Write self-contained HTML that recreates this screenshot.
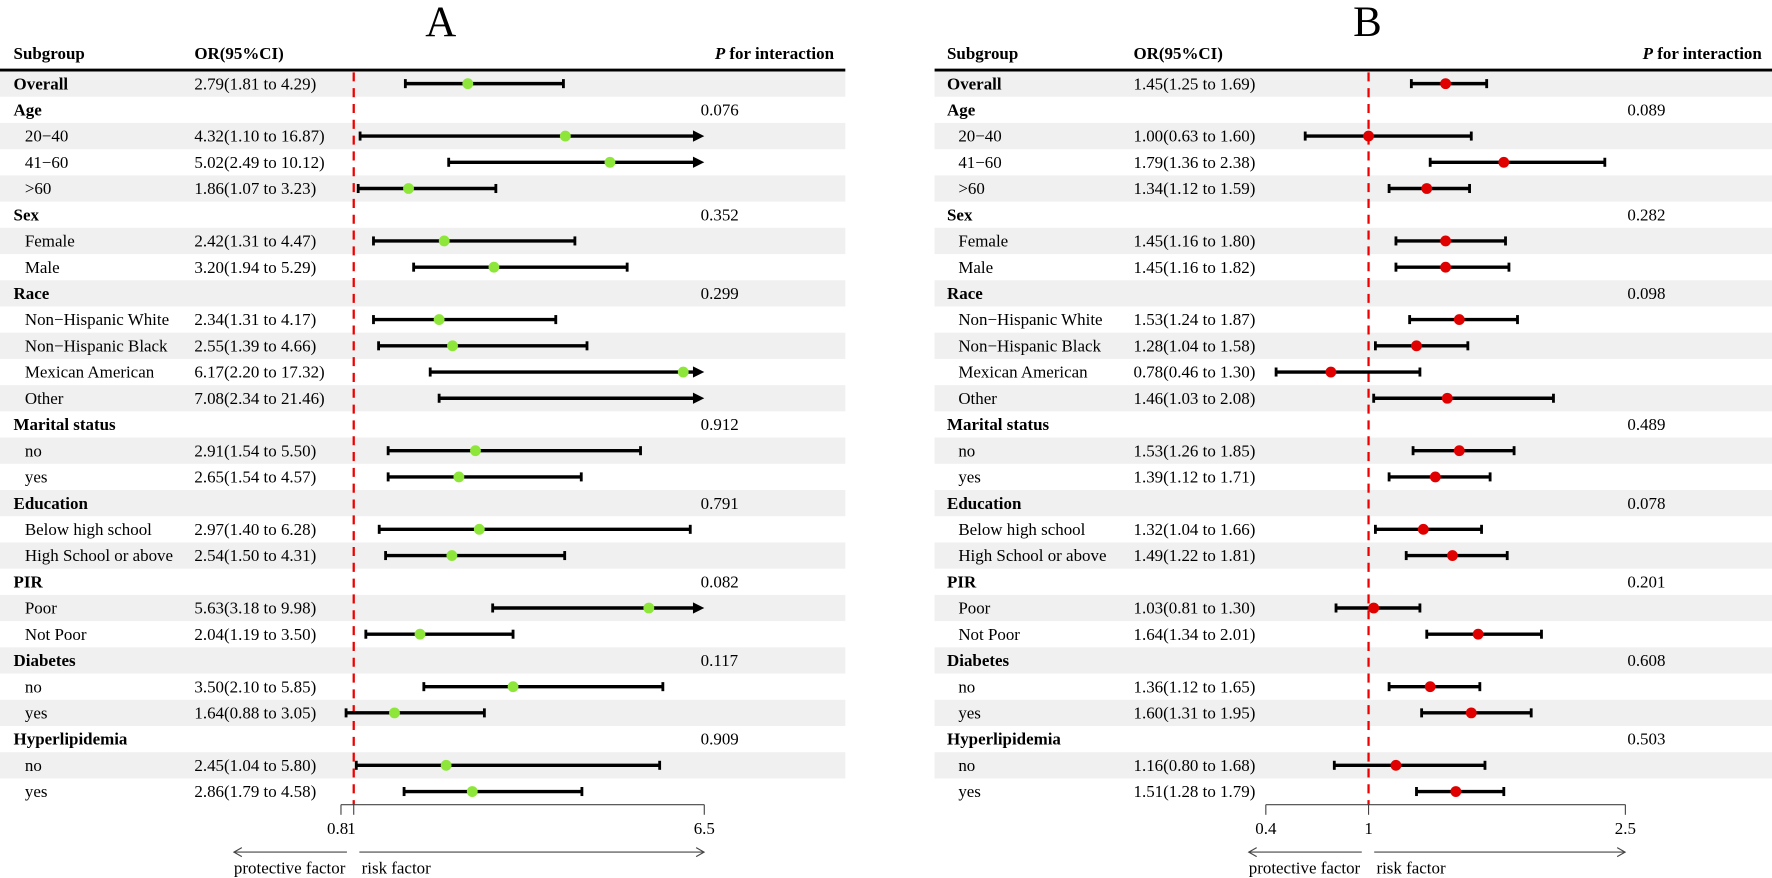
<!DOCTYPE html><html><head><meta charset="utf-8"><style>body{margin:0;background:#fff}svg{display:block;font-family:"Liberation Serif",serif}</style></head><body>
<svg width="1772" height="878" xmlns="http://www.w3.org/2000/svg"><g id="s" transform="scale(1.1301)"></g></svg>
<script>
const rows=[["Overall",0],["Age",0],["20\u221240",1],["41\u221260",1],[">60",1],["Sex",0],["Female",1],["Male",1],["Race",0],["Non\u2212Hispanic White",1],["Non\u2212Hispanic Black",1],["Mexican American",1],["Other",1],["Marital status",0],["no",1],["yes",1],["Education",0],["Below high school",1],["High School or above",1],["PIR",0],["Poor",1],["Not Poor",1],["Diabetes",0],["no",1],["yes",1],["Hyperlipidemia",0],["no",1],["yes",1]];
const A={0:[2.79,1.81,4.29],2:[4.32,1.10,16.87],3:[5.02,2.49,10.12],4:[1.86,1.07,3.23],6:[2.42,1.31,4.47],7:[3.20,1.94,5.29],9:[2.34,1.31,4.17],10:[2.55,1.39,4.66],11:[6.17,2.20,17.32],12:[7.08,2.34,21.46],14:[2.91,1.54,5.50],15:[2.65,1.54,4.57],17:[2.97,1.40,6.28],18:[2.54,1.50,4.31],20:[5.63,3.18,9.98],21:[2.04,1.19,3.50],23:[3.50,2.10,5.85],24:[1.64,0.88,3.05],26:[2.45,1.04,5.80],27:[2.86,1.79,4.58]};
const B={0:[1.45,1.25,1.69],2:[1.00,0.63,1.60],3:[1.79,1.36,2.38],4:[1.34,1.12,1.59],6:[1.45,1.16,1.80],7:[1.45,1.16,1.82],9:[1.53,1.24,1.87],10:[1.28,1.04,1.58],11:[0.78,0.46,1.30],12:[1.46,1.03,2.08],14:[1.53,1.26,1.85],15:[1.39,1.12,1.71],17:[1.32,1.04,1.66],18:[1.49,1.22,1.81],20:[1.03,0.81,1.30],21:[1.64,1.34,2.01],23:[1.36,1.12,1.65],24:[1.60,1.31,1.95],26:[1.16,0.80,1.68],27:[1.51,1.28,1.79]};
const PA={1:"0.076",5:"0.352",8:"0.299",13:"0.912",16:"0.791",19:"0.082",22:"0.117",25:"0.909"};
const PB={1:"0.089",5:"0.282",8:"0.098",13:"0.489",16:"0.078",19:"0.201",22:"0.608",25:"0.503"};
let h='';
const f=v=>v.toFixed(2);
function panel(x0,x1,txtX,orX,pX,pEnd,data,P,map,xmax,col,title,titleX,ticks,axL,axR,one){
 h+=`<text x="${titleX}" y="32" font-size="38" text-anchor="middle">${title}</text>`;
 rows.forEach((r,i)=>{const y=74+i*23.2;
  if(i%2==0)h+=`<rect x="${x0}" y="${y-11.6}" width="${x1-x0}" height="23.2" fill="#f0f0f0"/>`;});
 h+=`<text x="${txtX}" y="52" font-size="15" font-weight="bold">Subgroup</text><text x="${orX}" y="52" font-size="15" font-weight="bold">OR(95%CI)</text><text x="${pEnd}" y="52" font-size="15" font-weight="bold" text-anchor="end"><tspan font-style="italic">P</tspan> for interaction</text>`;
 h+=`<line x1="${x0}" y1="62" x2="${x1}" y2="62" stroke="#000" stroke-width="2.5"/>`;
 h+=`<line x1="${one}" y1="64" x2="${one}" y2="712" stroke="#e00" stroke-width="2" stroke-dasharray="8,6"/>`;
 rows.forEach((r,i)=>{const y=74+i*23.2;
  h+=`<text x="${r[1]?txtX+10:txtX}" y="${y+5}" font-size="15" ${r[1]?'':'font-weight="bold"'}>${r[0]}</text>`;
  if(P[i])h+=`<text x="${pX}" y="${y+5}" font-size="15">${P[i]}</text>`;
  const d=data[i];if(d){
   h+=`<text x="${orX}" y="${y+5}" font-size="15">${f(d[0])}(${f(d[1])} to ${f(d[2])})</text>`;
   const a=map(d[1]);let b;
   if(d[2]>xmax){b=map(xmax);h+=`<line x1="${a}" y1="${y}" x2="${b-6}" y2="${y}" stroke="#000" stroke-width="3"/><polygon points="${b},${y} ${b-10},${y-5} ${b-10},${y+5}" fill="#000"/>`;}
   else{b=map(d[2]);h+=`<line x1="${a}" y1="${y}" x2="${b}" y2="${y}" stroke="#000" stroke-width="3"/><line x1="${b}" y1="${y-4}" x2="${b}" y2="${y+4}" stroke="#000" stroke-width="2.5"/>`;}
   h+=`<line x1="${a}" y1="${y-4}" x2="${a}" y2="${y+4}" stroke="#000" stroke-width="2.5"/>`;
   if(d[0]<=xmax)h+=`<circle cx="${map(d[0])}" cy="${y}" r="4.8" fill="${col}"/>`;}
 });
 const t0=map(ticks[0][0]),t1=map(ticks[ticks.length-1][0]);
 h+=`<line x1="${t0}" y1="712" x2="${t1}" y2="712" stroke="#444" stroke-width="1"/>`;
 ticks.forEach(t=>{const x=map(t[0]);h+=`<line x1="${x}" y1="712" x2="${x}" y2="721" stroke="#444"/><text x="${x+(t[2]||0)}" y="738" font-size="15" text-anchor="middle">${t[1]}</text>`;});
 h+=`<line x1="${axL[0]}" y1="754" x2="${axL[1]}" y2="754" stroke="#444"/><polyline points="${axL[0]+7},750 ${axL[0]},754 ${axL[0]+7},758" fill="none" stroke="#444"/>`;
 h+=`<line x1="${axR[0]}" y1="754" x2="${axR[1]}" y2="754" stroke="#444"/><polyline points="${axR[1]-7},750 ${axR[1]},754 ${axR[1]-7},758" fill="none" stroke="#444"/>`;
 h+=`<text x="${axL[0]}" y="773" font-size="15">protective factor</text><text x="${axR[0]+2}" y="773" font-size="15">risk factor</text>`;
}
const mA=v=>313+(v-1)*56.4, mB=v=>1211+(v-1)*151.5;
panel(0,748,12,172,620,738,A,PA,mA,6.5,"#8ee63a","A",390,[[0.8,"0.8",-3],[1,"1",-2],[6.5,"6.5"]],[207,307],[318,623],313);
panel(827,1772,838,1003,1440,1559,B,PB,mB,2.5,"#e00000","B",1210,[[0.4,"0.4"],[1,"1"],[2.5,"2.5"]],[1105,1205],[1216,1438],1211);
document.getElementById('s').innerHTML=h;
</script></body></html>
